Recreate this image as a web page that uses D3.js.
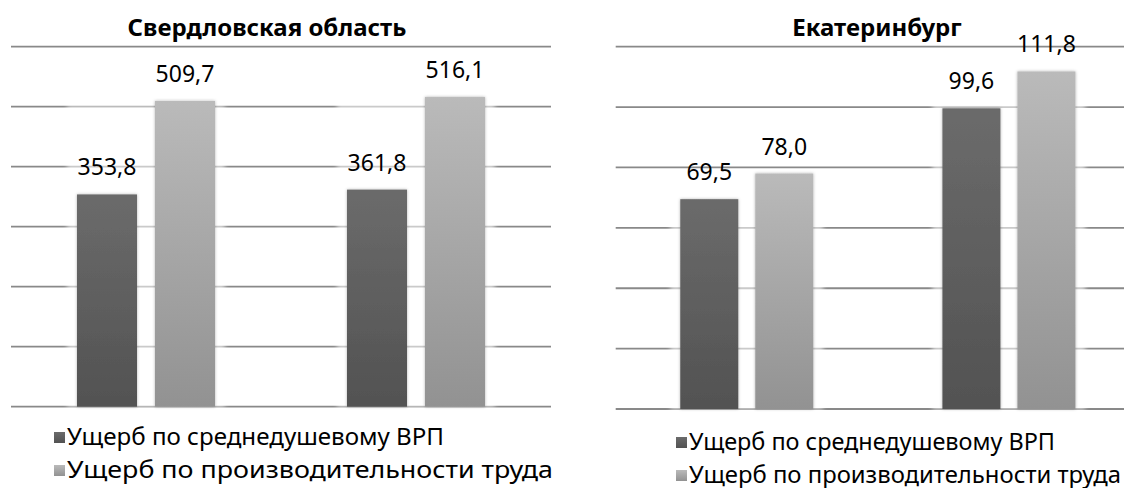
<!DOCTYPE html>
<html>
<head>
<meta charset="utf-8">
<script src="https://cdn.jsdelivr.net/npm/d3@7"></script>
<style>
  body { margin: 0; background: #fff; }
  svg { display: block; font-family: "Noto Sans", "Open Sans", sans-serif; }
</style>
</head>
<body>
<div id="svg-holder"></div>
<script>
// data
let seriesNames = ["Ущерб по среднедушевому ВРП", "Ущерб по производительности труда"]
let groups = ["I", "II"]
let regionVrp = [353.8, 361.8]
let regionTrud = [509.7, 516.1]
let ekbVrp = [69.5, 99.6]
let ekbTrud = [78.0, 111.8]
let regionTicks = [0, 100, 200, 300, 400, 500, 600]
let ekbTicks = [0, 20, 40, 60, 80, 100, 120]

let width = 1124,
    height = 488

let svg = d3.select("#svg-holder").append('svg')
    .attr("width", width)
    .attr("height", height)

let defs = svg.append('defs')

// bar gradients, top lighter
function grad(id, top, bottom) {
    let g = defs.append('linearGradient')
        .attr('id', id)
        .attr('x1', 0).attr('x2', 0).attr('y1', 0).attr('y2', 1)
    g.append('stop').attr('offset', '0%').attr('stop-color', top)
    g.append('stop').attr('offset', '100%').attr('stop-color', bottom)
}
grad('gDark', '#6b6b6b', '#525252')
grad('gLight', '#bababa', '#929292')

let shadow = defs.append('filter').attr('id', 'shadow')
    .attr('x', '-20%').attr('y', '-20%').attr('width', '140%').attr('height', '140%')
shadow.append('feDropShadow')
    .attr('dx', 0).attr('dy', 0).attr('stdDeviation', 1.6)
    .attr('flood-color', '#000').attr('flood-opacity', 0.3)

let halo = defs.append('filter').attr('id', 'halo')
    .attr('x', '-20%').attr('y', '-20%').attr('width', '140%').attr('height', '140%')
halo.append('feGaussianBlur').attr('stdDeviation', 2)

let fills = ['url(#gDark)', 'url(#gLight)']
let fmt = v => d3.format('.1f')(v).replace('.', ',')

function drawPanel(cfg) {
    let g = svg.append('g')

    let y = d3.scaleLinear()
        .domain([cfg.ticks[0], cfg.ticks[cfg.ticks.length - 1]])
        .range([cfg.bottom, cfg.top])

    let x0 = d3.scaleBand()
        .domain(groups)
        .range([cfg.left, cfg.right])

    let x1 = d3.scaleBand()
        .domain(seriesNames)
        .range([0, cfg.barW * 2 + cfg.gap])
        .paddingInner(2 - (cfg.barW * 2 + cfg.gap) / (cfg.barW + cfg.gap))

    let groupOffset = x0.bandwidth() / 2 - (cfg.barW * 2 + cfg.gap) / 2

    // gridlines
    g.selectAll('.grid')
        .data(cfg.ticks)
        .enter()
        .append('line')
        .attr('x1', cfg.left)
        .attr('x2', cfg.right)
        .attr('y1', d => y(d))
        .attr('y2', d => y(d))
        .attr('stroke', '#898989')
        .attr('stroke-width', 1.8)

    let rows = groups.map((grp, i) => ({
        grp: grp,
        vals: [cfg.series[0][i], cfg.series[1][i]]
    }))

    // light halo behind each group
    g.selectAll('.halo')
        .data(rows)
        .enter()
        .append('rect')
        .attr('x', d => x0(d.grp) + groupOffset - 10)
        .attr('width', cfg.barW * 2 + cfg.gap + 20)
        .attr('y', d => y(d3.max(d.vals)) + 4)
        .attr('height', d => cfg.bottom - y(d3.max(d.vals)) - 3)
        .attr('fill', '#fff')
        .attr('fill-opacity', 0.55)
        .attr('filter', 'url(#halo)')

    let bars = g.selectAll('.grp')
        .data(rows)
        .enter()
        .append('g')
        .attr('transform', d => `translate(${x0(d.grp) + groupOffset},0)`)

    bars.selectAll('rect')
        .data(d => d.vals.map((v, k) => ({ v: v, k: k })))
        .enter()
        .append('rect')
        .attr('x', d => x1(seriesNames[d.k]))
        .attr('width', x1.bandwidth())
        .attr('y', d => y(d.v))
        .attr('height', d => cfg.bottom - y(d.v))
        .attr('fill', d => fills[d.k])
        .attr('filter', 'url(#shadow)')

    bars.selectAll('text')
        .data(d => d.vals.map((v, k) => ({ v: v, k: k })))
        .enter()
        .append('text')
        .attr('x', d => x1(seriesNames[d.k]) + x1.bandwidth() / 2)
        .attr('y', d => y(d.v) - 19)
        .attr('text-anchor', 'middle')
        .attr('font-size', 23)
        .attr('fill', '#000')
        .text(d => fmt(d.v))

    // title
    g.append('text')
        .attr('x', cfg.titleX)
        .attr('y', 36)
        .attr('text-anchor', 'middle')
        .attr('font-size', 24)
        .attr('font-weight', 'bold')
        .text(cfg.title)

    // legend
    let leg = g.selectAll('.leg')
        .data(seriesNames)
        .enter()
        .append('g')
        .attr('transform', (d, i) => `translate(${cfg.legX},${cfg.legY + i * 33})`)

    leg.append('rect')
        .attr('x', 0)
        .attr('y', -5)
        .attr('width', 11)
        .attr('height', 11)
        .attr('fill', (d, i) => fills[i])

    // stretch / squeeze each line to the width it has in the original
    leg.append('text')
        .attr('x', 13)
        .attr('y', 8)
        .attr('font-size', 23)
        .attr('textLength', (d, i) => cfg.legW[i])
        .attr('lengthAdjust', 'spacingAndGlyphs')
        .text(d => d)
}

drawPanel({
    title: 'Свердловская область',
    titleX: 267,
    series: [regionVrp, regionTrud],
    ticks: regionTicks,
    left: 11, right: 551,
    top: 46.7, bottom: 406.7,
    barW: 60, gap: 18,
    legX: 54, legY: 437, legW: [377, 486]
})

drawPanel({
    title: 'Екатеринбург',
    titleX: 877,
    series: [ekbVrp, ekbTrud],
    ticks: ekbTicks,
    left: 615.7, right: 1140,
    top: 46.7, bottom: 409,
    barW: 58, gap: 17,
    legX: 676, legY: 442, legW: [366, 432]
})
</script>
</body>
</html>
